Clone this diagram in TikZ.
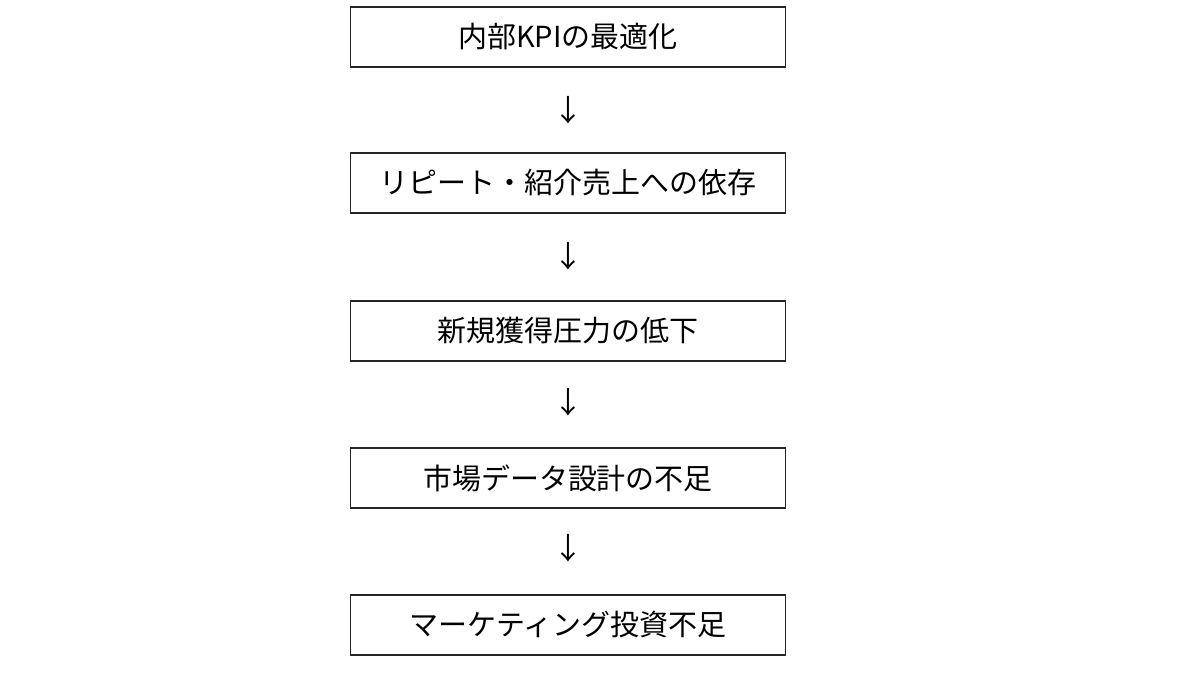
\documentclass[tikz,border=0pt]{standalone}
\usepackage{fontspec}
\setmainfont{Noto Sans CJK JP}
\begin{document}
\begin{tikzpicture}[x=0.02cm,y=-0.02cm,
    stepbox/.style={draw=black!85,line width=0.6pt,minimum width=8.72cm,minimum height=1.2cm,inner sep=0pt,font=\fontsize{16.5}{19}\selectfont},
    downmark/.style={inner sep=0pt,font=\fontsize{17}{20}\selectfont}]
    \useasboundingbox (0,0) rectangle (1200,675);
    \node[stepbox] (kpi) at (568,37) {内部KPIの最適化};
    \node[stepbox] (repeat) at (568,183) {リピート・紹介売上への依存};
    \node[stepbox] (acquire) at (568,331) {新規獲得圧力の低下};
    \node[stepbox] (design) at (568,478) {市場データ設計の不足};
    \node[stepbox] (invest) at (568,625) {マーケティング投資不足};
    \node[downmark] (d1) at (568,110) {↓};
    \node[downmark] (d2) at (568,256) {↓};
    \node[downmark] (d3) at (568,402) {↓};
    \node[downmark] (d4) at (568,548) {↓};
\end{tikzpicture}
\end{document}
